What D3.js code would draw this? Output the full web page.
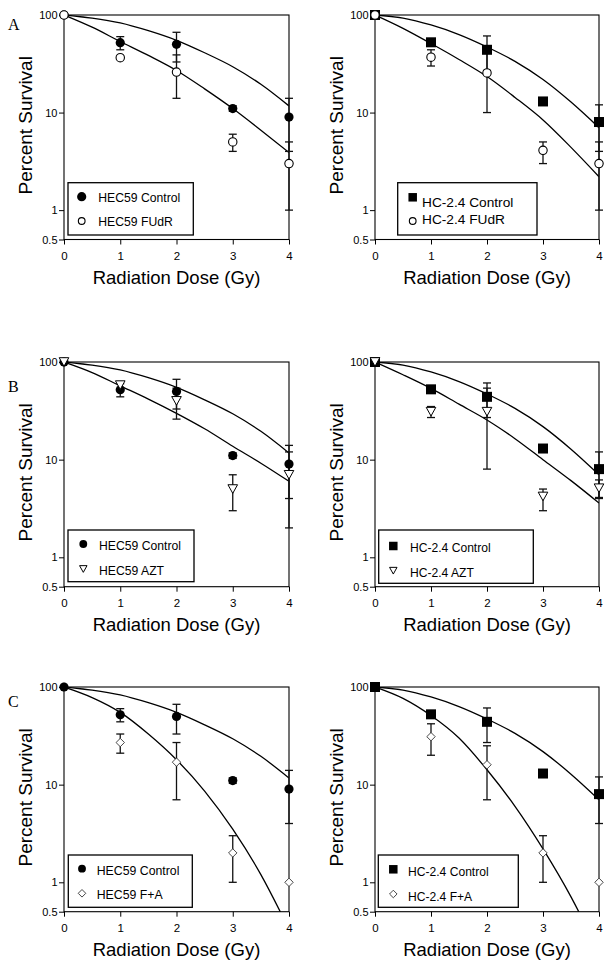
<!DOCTYPE html>
<html><head><meta charset="utf-8">
<script src="https://cdn.jsdelivr.net/npm/d3@7"></script>
<style>html,body{margin:0;padding:0;background:#fff;} svg{display:block;}</style>
</head><body>
<svg id="chart" width="612" height="971"></svg>
<script>
// ---------------- DATA ----------------
const doses = [0, 1, 2, 3, 4];
const fitDoses = [0, 0.5, 1, 1.5, 2, 2.5, 3, 3.5, 4];
const xTickValues = [0, 1, 2, 3, 4];
const yTickValues = [0.5, 1, 10, 100];
const yTickLabels = ["0.5", "1", "10", "100"];
const panelLetters = ["A", "B", "C"];
const xAxisTitle = "Radiation Dose (Gy)";
const yAxisTitle = "Percent Survival";

// HEC59
const hec59Control     = [100, 52, 50, 11, 9];
const hec59ControlLow  = [100, 44, 33, 10.3, 4];
const hec59ControlHigh = [100, 60, 66.5, 11.7, 14];
const hec59ControlFit  = [100, 93, 83, 69, 55, 41, 29.5, 19.5, 11.7];

const hec59FUdR     = [100, 36.5, 26, 5, 3];
const hec59FUdRLow  = [100, 36.5, 14, 4, 1];
const hec59FUdRHigh = [100, 36.5, 39, 6, 5];
const hec59FUdRFit  = [100, 75, 53.5, 38.5, 27, 17.5, 11, 6.6, 3.9];

const hec59AZT     = [100, 58, 40, 5, 7];
const hec59AZTLow  = [100, 58, 26, 3, 2];
const hec59AZTHigh = [100, 58, 54, 7, 12];
const hec59AZTFit  = [100, 78, 57, 41.7, 29.8, 20.7, 13.7, 9.2, 6.0];

const hec59FA     = [100, 27, 17, 2, 1];
const hec59FALow  = [100, 21, 7, 1, 1];
const hec59FAHigh = [100, 33, 27, 3, 1];
const hec59FAFit  = [100, 78, 55, 33, 18, 8.6, 3.5, 1.2, 0.33];

// HC-2.4
const hc24Control     = [100, 52.5, 44, 13, 8];
const hc24ControlLow  = [100, 52.5, 27, 13, 4];
const hc24ControlHigh = [100, 52.5, 61, 13, 12];
const hc24ControlFit  = [100, 93, 79, 63, 47, 33.5, 21.8, 12.8, 7.0];

const hc24FUdR     = [100, 37, 25.5, 4.1, 3];
const hc24FUdRLow  = [100, 30, 10, 3, 1];
const hc24FUdRHigh = [100, 44, 41, 5, 5];
const hc24FUdRFit  = [100, 73, 51, 35, 23.4, 14.3, 8.4, 4.4, 2.2];

const hc24AZT     = [100, 31, 31, 4.2, 5.1];
const hc24AZTLow  = [100, 27, 8, 3, 4.1];
const hc24AZTHigh = [100, 35, 54, 5, 6.2];
const hc24AZTFit  = [100, 74, 53.6, 37, 25.5, 16.4, 10, 6.1, 3.6];

const hc24FA     = [100, 31, 16, 2, 1];
const hc24FALow  = [100, 20, 7, 1, 1];
const hc24FAHigh = [100, 42, 25, 3, 1];
const hc24FAFit  = [100, 76.5, 51, 30, 14.2, 6.0, 2.2, 0.71, 0.19];

// ---------------- SERIES ----------------
const S = {
  hec59Control: {label:"HEC59 Control", v:hec59Control, lo:hec59ControlLow, hi:hec59ControlHigh, fit:hec59ControlFit, m:"filledCircle"},
  hec59FUdR:    {label:"HEC59 FUdR",    v:hec59FUdR, lo:hec59FUdRLow, hi:hec59FUdRHigh, fit:hec59FUdRFit, m:"openCircle"},
  hec59AZT:     {label:"HEC59 AZT",     v:hec59AZT, lo:hec59AZTLow, hi:hec59AZTHigh, fit:hec59AZTFit, m:"openTriangle"},
  hec59FA:      {label:"HEC59 F+A",     v:hec59FA, lo:hec59FALow, hi:hec59FAHigh, fit:hec59FAFit, m:"openDiamond"},
  hc24Control:  {label:"HC-2.4 Control", v:hc24Control, lo:hc24ControlLow, hi:hc24ControlHigh, fit:hc24ControlFit, m:"filledSquare"},
  hc24FUdR:     {label:"HC-2.4 FUdR",   v:hc24FUdR, lo:hc24FUdRLow, hi:hc24FUdRHigh, fit:hc24FUdRFit, m:"openCircle"},
  hc24AZT:      {label:"HC-2.4 AZT",    v:hc24AZT, lo:hc24AZTLow, hi:hc24AZTHigh, fit:hc24AZTFit, m:"openTriangle"},
  hc24FA:       {label:"HC-2.4 F+A",    v:hc24FA, lo:hc24FALow, hi:hc24FAHigh, fit:hc24FAFit, m:"openDiamond"}
};

// ---------------- LAYOUT ----------------
const cols = [{x0:64, x4:289}, {x0:375, x4:599}];
const rows = [
  {y100:15,  y05:239.5, letterY:29.5},
  {y100:362, y05:586.7, letterY:391.5},
  {y100:687, y05:911.7, letterY:706.5}
];
const panels = [
  {row:0, col:0, series:["hec59Control","hec59FUdR"], ctrlTop:false,
   legend:{x:68, y:182.7, w:125.3, h:52.3, fs:12.2, items:[{mx:81.7,my:196.7,tx:98.3,ty:201.5,ms:1},{mx:81.7,my:221,tx:98.3,ty:226.3,ms:0.8}]}},
  {row:0, col:1, series:["hc24Control","hc24FUdR"], ctrlTop:false,
   legend:{x:397.7, y:182.7, w:139.3, h:52.3, fs:13.7, items:[{mx:412.7,my:197.3,tx:422,ty:207,ms:0.85},{mx:412.7,my:221,tx:422,ty:224,ms:0.8}]}},
  {row:1, col:0, series:["hec59Control","hec59AZT"], ctrlTop:false,
   legend:{x:68, y:530, w:126, h:51.7, fs:12.2, items:[{mx:83.3,my:544,tx:99,ty:550,ms:0.85},{mx:83.3,my:569,tx:99,ty:575,ms:0.78}]}},
  {row:1, col:1, series:["hc24Control","hc24AZT"], ctrlTop:false,
   legend:{x:378.7, y:530, w:154.6, h:53.3, fs:12.1, items:[{mx:393.3,my:546,tx:410,ty:551.5,ms:0.85},{mx:393.3,my:570.7,tx:410,ty:576.5,ms:0.78}]}},
  {row:2, col:0, series:["hec59Control","hec59FA"], ctrlTop:true,
   legend:{x:68.3, y:855, w:124, h:52.3, fs:12.3, items:[{mx:82,my:868.7,tx:96.7,ty:875,ms:0.85},{mx:82,my:893.3,tx:96.7,ty:899,ms:0.9}]}},
  {row:2, col:1, series:["hc24Control","hc24FA"], ctrlTop:true,
   legend:{x:378.3, y:855, w:140, h:52.3, fs:12.1, items:[{mx:393.3,my:869.3,tx:408,ty:876,ms:0.85},{mx:393.3,my:894,tx:408,ty:900.5,ms:0.9}]}}
];

const FONT = "'Liberation Sans', Arial, Helvetica, sans-serif";
const svg = d3.select("#chart");

function drawMarker(g, type, x, y, k) {
  k = k || 1;
  if (type === "filledCircle") {
    g.append("circle").attr("cx", x).attr("cy", y).attr("r", 4.6*k).attr("fill", "#000");
  } else if (type === "openCircle") {
    g.append("circle").attr("cx", x).attr("cy", y).attr("r", 4.2*k)
      .attr("fill", "#fff").attr("stroke", "#000").attr("stroke-width", 1.1);
  } else if (type === "filledSquare") {
    const s = 10*k;
    g.append("rect").attr("x", x - s/2).attr("y", y - s/2).attr("width", s).attr("height", s).attr("fill", "#000");
  } else if (type === "openTriangle") {
    const w = 9.6*k, h = 8.6*k;
    g.append("path").attr("d", `M${x-w/2},${y-h/2}L${x+w/2},${y-h/2}L${x},${y+h/2}Z`)
      .attr("fill", "#fff").attr("stroke", "#000").attr("stroke-width", 1);
  } else if (type === "openDiamond") {
    const d = 4.2*k;
    g.append("path").attr("d", `M${x},${y-d}L${x+d},${y}L${x},${y+d}L${x-d},${y}Z`)
      .attr("fill", "#fff").attr("stroke", "#333").attr("stroke-width", 0.9);
  }
}

// Panel letters
rows.forEach((r, i) => {
  svg.append("text").attr("x", 8).attr("y", r.letterY)
    .attr("font-family", "'Liberation Serif', 'Times New Roman', serif")
    .attr("font-size", 16).attr("fill", "#000").text(panelLetters[i]);
});

panels.forEach((p, pi) => {
  const c = cols[p.col], r = rows[p.row];
  const x = d3.scaleLinear().domain([0, 4]).range([c.x0, c.x4]);
  const y = d3.scaleLog().domain([0.5, 100]).range([r.y05, r.y100]);
  const g = svg.append("g");

  const clipId = "clip" + pi;
  svg.append("clipPath").attr("id", clipId).append("rect")
    .attr("x", c.x0).attr("y", r.y100).attr("width", c.x4 - c.x0).attr("height", r.y05 - r.y100);

  // axes
  const ya = g.append("g").attr("transform", `translate(${c.x0},0)`)
    .call(d3.axisLeft(y).tickValues(yTickValues).tickFormat((d, i) => yTickLabels[i]).tickSize(5).tickPadding(1.5));
  ya.select(".domain").remove();
  ya.selectAll("text").attr("font-family", FONT).attr("font-size", 11).attr("fill", "#000");
  ya.selectAll("line").attr("stroke", "#000");
  const xa = g.append("g").attr("transform", `translate(0,${r.y05})`)
    .call(d3.axisBottom(x).tickValues(xTickValues).tickFormat(d3.format("d")).tickSize(5).tickPadding(7));
  xa.select(".domain").remove();
  xa.selectAll("text").attr("font-family", FONT).attr("font-size", 11.5).attr("fill", "#000");
  xa.selectAll("line").attr("stroke", "#000");

  // frame
  g.append("rect").attr("x", c.x0).attr("y", r.y100).attr("width", c.x4 - c.x0).attr("height", r.y05 - r.y100)
    .attr("fill", "none").attr("stroke", "#000").attr("stroke-width", 1.1);

  // axis titles
  g.append("text").attr("x", (c.x0 + c.x4) / 2).attr("y", r.y05 + 44)
    .attr("text-anchor", "middle").attr("font-family", FONT).attr("font-size", 18.5).attr("fill", "#000").text(xAxisTitle);
  g.append("text").attr("transform", `translate(${c.x0 - 32},${(r.y100 + r.y05) / 2 - 2}) rotate(-90)`)
    .attr("text-anchor", "middle").attr("font-family", FONT).attr("font-size", 19).attr("fill", "#000").text(yAxisTitle);

  // fit curves
  const line = d3.line().x(d => x(d[0])).y(d => y(d[1])).curve(d3.curveMonotoneX);
  const cg = g.append("g").attr("clip-path", `url(#${clipId})`);
  p.series.forEach(k => {
    const s = S[k];
    cg.append("path").datum(fitDoses.map((d, i) => [d, s.fit[i]]))
      .attr("d", line).attr("fill", "none").attr("stroke", "#000").attr("stroke-width", 1.3);
  });

  // error bars
  const eg = g.append("g").attr("stroke", "#111").attr("stroke-width", 1.3);
  p.series.forEach(k => {
    const s = S[k];
    doses.forEach((d, i) => {
      if (s.lo[i] === s.hi[i]) return;
      const xx = x(d), y1 = y(s.lo[i]), y2 = y(s.hi[i]);
      eg.append("line").attr("x1", xx).attr("x2", xx).attr("y1", y1).attr("y2", y2);
      eg.append("line").attr("x1", xx - 4).attr("x2", xx + 4).attr("y1", y1).attr("y2", y1);
      eg.append("line").attr("x1", xx - 4).attr("x2", xx + 4).attr("y1", y2).attr("y2", y2);
    });
  });

  // markers
  const order = p.ctrlTop ? [p.series[1], p.series[0]] : [p.series[0], p.series[1]];
  const mg = g.append("g");
  order.forEach(k => {
    const s = S[k];
    doses.forEach((d, i) => drawMarker(mg, s.m, x(d), y(s.v[i]), 1));
  });

  // legend
  const L = p.legend;
  const lg = g.append("g");
  lg.append("rect").attr("x", L.x).attr("y", L.y).attr("width", L.w).attr("height", L.h)
    .attr("fill", "#fff").attr("stroke", "#000").attr("stroke-width", 1.3);
  p.series.forEach((k, i) => {
    const it = L.items[i];
    drawMarker(lg, S[k].m, it.mx, it.my, it.ms);
    lg.append("text").attr("x", it.tx).attr("y", it.ty).attr("font-family", FONT)
      .attr("font-size", L.fs).attr("fill", "#000").text(S[k].label);
  });
});
</script>
</body></html>
